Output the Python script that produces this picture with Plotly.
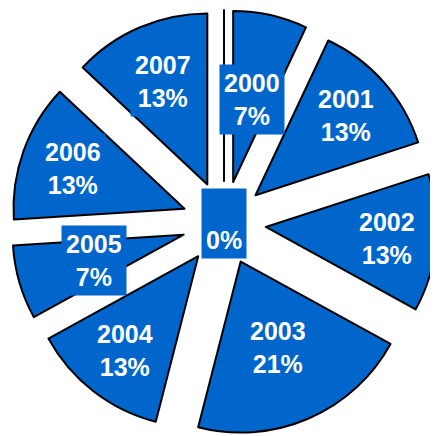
import math
import plotly.graph_objects as go

years = ["", "2000", "2001", "2002", "2003", "2004", "2005", "2006", "2007"]
shares = [0, 7, 13, 13, 21, 13, 7, 13, 13]

# label placement (distance from pie centre, in pixels) - style, not data
label_dist = [0, 127, 162, 164, 136, 161, 135, 161, 154]

W, H = 430, 428
ML, MT, MR, MB = 3, 2, 1, 0
PW, PH = W - ML - MR, H - MT - MB
PULL = 0.2456
BLUE = "#0066CC"

fig = go.Figure(go.Pie(
    labels=years,
    values=shares,
    sort=False,
    direction="clockwise",
    rotation=0,
    pull=[PULL] * len(shares),
    marker=dict(colors=[BLUE] * len(shares), line=dict(color="black", width=2)),
    textinfo="none",
    hoverinfo="label+percent",
    showlegend=False,
))

cx = ML + PW / 2
cy = MT + PH / 2
total = sum(shares)
cum = 0
annotations = []
for lab, v, dist in zip(years, shares, label_dist):
    mid = (cum + v / 2) / total * 2 * math.pi
    cum += v
    pct = round(v / total * 100)
    text = ("%s<br>%d%%" % (lab, pct)) if lab else (" <br>%d%%" % pct)
    px = cx + dist * math.sin(mid)
    py = cy - dist * math.cos(mid)
    annotations.append(dict(
        x=(px - ML) / PW, y=1 - (py - MT) / PH, xref="paper", yref="paper",
        xanchor="center", yanchor="middle",
        text=text, showarrow=False, align="center",
        font=dict(family="Liberation Sans, Arial, sans-serif", size=25, color="white", weight="bold"),
        bgcolor=BLUE, borderpad=4,
    ))

fig.update_layout(
    width=W, height=H,
    margin=dict(l=ML, r=MR, t=MT, b=MB),
    paper_bgcolor="white", plot_bgcolor="white",
    annotations=annotations,
)
fig.write_html("out.html")
